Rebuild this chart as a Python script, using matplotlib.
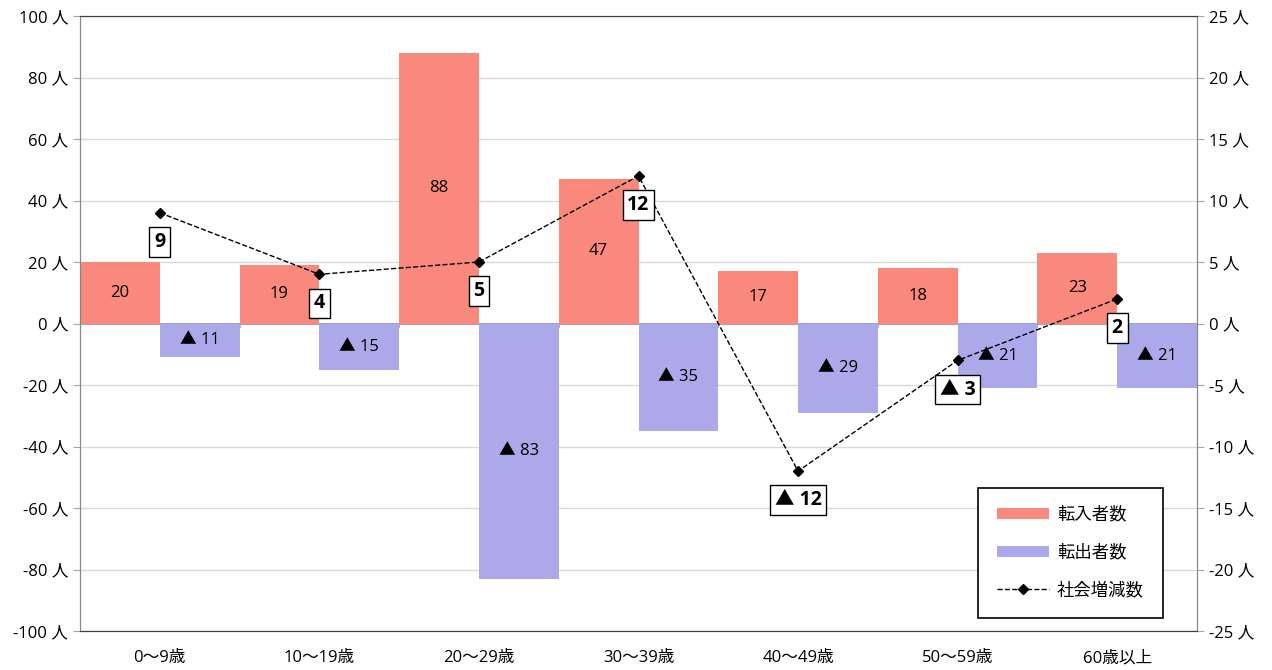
import numpy as np
import matplotlib.pyplot as plt

plt.rcParams['font.family'] = ['Open Sans', 'Noto Sans CJK JP', 'DejaVu Sans']

# data
categories = ['0〜9歳', '10〜19歳', '20〜29歳', '30〜39歳', '40〜49歳', '50〜59歳', '60歳以上']
tennyu = [20, 19, 88, 47, 17, 18, 23]       # 転入者数
tenshutsu = [11, 15, 83, 35, 29, 21, 21]    # 転出者数
zougen = [9, 4, 5, 12, -12, -3, 2]          # 社会増減数

left_ticks = list(range(-100, 101, 20))
right_ticks = list(range(-25, 26, 5))

c_in = '#F8897C'
c_out = '#ABA9EA'

fig = plt.figure(figsize=(12.72, 6.70), dpi=100)
ax = fig.add_axes([80 / 1272, 39 / 670, 1117 / 1272, 615 / 670])
ax2 = ax.twinx()

x = np.arange(len(categories))
w = 0.5
b1 = ax.bar(x - w / 2, tennyu, width=w, color=c_in, label='転入者数', zorder=2)
b2 = ax.bar(x + w / 2, [-v for v in tenshutsu], width=w, color=c_out, label='転出者数', zorder=2)

for xi, v in zip(x, tennyu):
    ax.text(xi - w / 2, v / 2, str(v), ha='center', va='center', fontsize=12, zorder=3)
for xi, v in zip(x, tenshutsu):
    ax.text(xi + w / 2, -v / 2, '▲ ' + str(v), ha='center', va='center', fontsize=12, zorder=3)

ax.set_xlim(-0.5, len(categories) - 0.5)
ax.set_ylim(-100, 100)
ax.set_yticks(left_ticks)
ax.set_yticklabels([f'{t} 人' for t in left_ticks], fontsize=12)
ax.yaxis.grid(True, color='#d9d9d9', lw=1, zorder=0)
ax.set_axisbelow(True)
ax.axhline(0, color='#a6a6a6', lw=1.5, zorder=1)
ax.vlines(x[:-1] + 0.5, -1.5, 0, color='#a6a6a6', lw=1.2, zorder=1)

ax.set_xticks(x)
ax.set_xticklabels(categories, fontsize=12)
ax.tick_params(axis='x', length=0, pad=14)
ax.tick_params(axis='y', color='#a6a6a6', length=5)

ax2.set_ylim(-25, 25)
ax2.set_yticks(right_ticks)
ax2.set_yticklabels([f'{t} 人' for t in right_ticks], fontsize=12)
ax2.tick_params(axis='y', color='#a6a6a6', length=5)

for a in (ax, ax2):
    a.spines['left'].set_color('#888888')
    a.spines['right'].set_color('#888888')
    a.spines['top'].set_color('#404040')
    a.spines['bottom'].set_color('#404040')

ln, = ax2.plot(x, zougen, color='black', ls='--', lw=1, marker='D', ms=5,
               label='社会増減数', zorder=4)
for xi, v in zip(x, zougen):
    s = str(v) if v >= 0 else '▲ ' + str(-v)
    ax2.annotate(s, (xi, v), xytext=(0, -21), textcoords='offset points',
                 ha='center', va='center', fontsize=14, fontweight='bold', zorder=5,
                 bbox=dict(boxstyle='square,pad=0.25', fc='white', ec='black', lw=1))

leg = ax2.legend([b1, b2, ln], ['転入者数', '転出者数', '社会増減数'],
                 loc='upper left', bbox_to_anchor=(978 / 1272, 1 - 488 / 670),
                 bbox_transform=fig.transFigure, fontsize=12.5, fancybox=False,
                 framealpha=1, edgecolor='black', labelspacing=1.2,
                 handlelength=3.0, handleheight=0.6, handletextpad=0.45,
                 borderpad=1.1, borderaxespad=0)
leg.get_frame().set_linewidth(1.2)

fig.savefig('out.png', dpi=100)
